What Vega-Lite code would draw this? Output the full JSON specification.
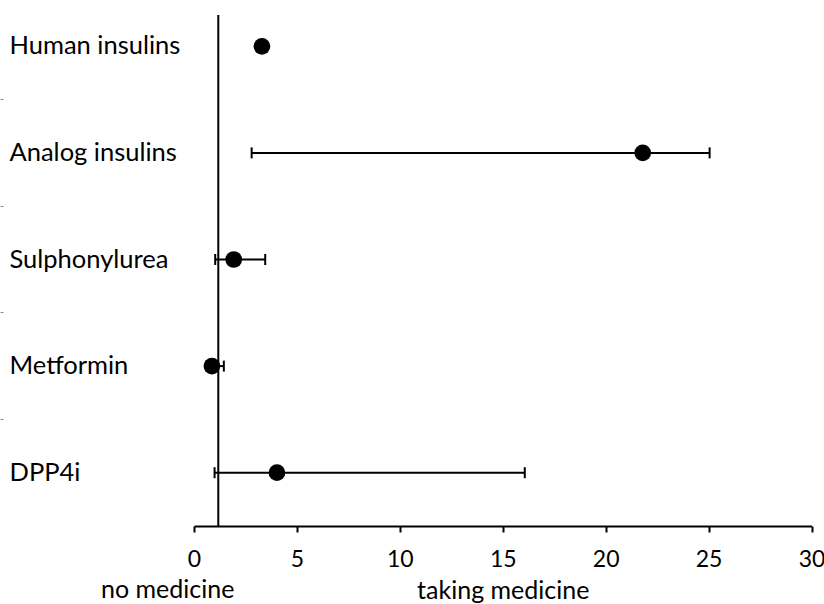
{
  "$schema": "https://vega.github.io/schema/vega-lite/v6.json",
  "autosize": "none",
  "width": 617.5,
  "height": 511,
  "padding": {"left": 194, "top": 15, "right": 12.5, "bottom": 78},
  "background": "white",
  "title": {"text": "no medicine", "orient": "bottom", "anchor": "start", "frame": "group", "align": "left", "dx": -93, "dy": -29, "font": "Lato", "fontSize": 25, "fontWeight": "normal", "color": "black"},
  "data": {"values": [
    {"drug": "Human insulins", "or": 3.3, "lo": null, "hi": null},
    {"drug": "Analog insulins", "or": 21.8, "lo": 2.8, "hi": 25.05},
    {"drug": "Sulphonylurea", "or": 1.93, "lo": 1.03, "hi": 3.46},
    {"drug": "Metformin", "or": 0.87, "lo": 0.6, "hi": 1.45},
    {"drug": "DPP4i", "or": 4.03, "lo": 1.0, "hi": 16.07}
  ]},
  "encoding": {
    "y": {"field": "drug", "type": "nominal", "title": null,
      "sort": ["Human insulins", "Analog insulins", "Sulphonylurea", "Metformin", "DPP4i"],
      "scale": {"type": "band", "paddingInner": 0, "paddingOuter": 0, "range": [-22, 511]},
      "axis": {"orient": "left", "offset": 191, "domain": false, "ticks": true, "tickSize": 3, "tickColor": "#888", "tickWidth": 1, "bandPosition": 0,
        "labelAlign": "left", "labelBaseline": "middle", "labelPadding": -9, "labelFont": "Lato", "labelFontSize": 25.5, "labelColor": "black", "labelLimit": 300}}
  },
  "layer": [
    {
      "mark": {"type": "rule", "color": "black", "strokeWidth": 2},
      "encoding": {
        "x": {"field": "lo", "type": "quantitative", "title": "taking medicine",
          "scale": {"domain": [0, 30], "nice": false, "zero": false},
          "axis": {"values": [0, 5, 10, 15, 20, 25, 30], "grid": false, "domainColor": "black", "domainWidth": 2, "tickColor": "black", "tickWidth": 2, "tickSize": 6,
            "labelFont": "Lato", "labelFontSize": 23, "labelColor": "black", "labelPadding": 16, "labelFlush": false,
            "titleFont": "Lato", "titleFontSize": 25, "titleFontWeight": "normal", "titleColor": "black", "titlePadding": 7}},
        "x2": {"field": "hi"}
      }
    },
    {
      "mark": {"type": "tick", "color": "black", "opacity": 1, "thickness": 2, "size": 11, "orient": "vertical"},
      "encoding": {"x": {"field": "lo", "type": "quantitative"}}
    },
    {
      "mark": {"type": "tick", "color": "black", "opacity": 1, "thickness": 2, "size": 11, "orient": "vertical"},
      "encoding": {"x": {"field": "hi", "type": "quantitative"}}
    },
    {
      "mark": {"type": "circle", "color": "black", "opacity": 1, "size": 280},
      "encoding": {"x": {"field": "or", "type": "quantitative"}}
    },
    {
      "data": {"values": [{"ref": 1.18}]},
      "mark": {"type": "rule", "color": "black", "strokeWidth": 2},
      "encoding": {"x": {"field": "ref", "type": "quantitative"}, "y": null}
    }
  ],
  "config": {"view": {"stroke": null}}
}
